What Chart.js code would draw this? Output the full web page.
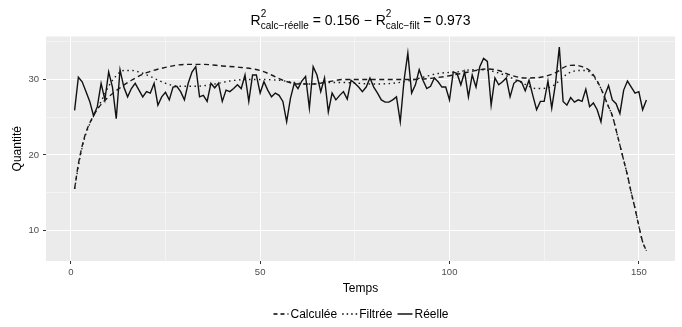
<!DOCTYPE html>
<html>
<head>
<meta charset="utf-8">
<script src="https://cdn.jsdelivr.net/npm/chart.js@4.4.0/dist/chart.umd.min.js"></script>
<style>
  html, body { margin: 0; padding: 0; background: #ffffff; }
  #c { display: block; }
</style>
</head>
<body>
<canvas id="c" width="682" height="327"></canvas>
<script>
// Réelle: one value per time step, t = 1..152
const reelle = [
  25.9, 30.3, 29.7, 28.4, 27.1, 25.2, 26.4, 29.5, 27.3, 31.0,
  29.0, 24.8, 31.3, 29.0, 27.7, 28.8, 29.5, 28.6, 27.7, 28.4,
  28.2, 29.5, 26.6, 27.7, 28.3, 27.3, 29.0, 29.1, 28.4, 27.3,
  29.5, 31.0, 31.7, 27.7, 27.9, 27.1, 29.5, 28.9, 29.5, 27.1,
  28.6, 28.4, 28.8, 29.3, 28.8, 30.6, 27.1, 30.6, 30.6, 28.2,
  29.7, 28.6, 27.7, 28.2, 27.9, 27.1, 24.4, 27.5, 29.5, 28.8,
  29.8, 30.4, 26.2, 31.7, 30.6, 28.4, 30.2, 25.7, 28.2, 27.3,
  27.9, 28.4, 27.4, 29.9, 29.5, 29.0, 28.4, 29.0, 30.2, 29.0,
  28.2, 27.3, 27.0, 27.0, 27.3, 27.7, 24.4, 29.9, 33.5, 28.2,
  29.3, 31.3, 29.9, 28.8, 29.1, 30.2, 29.7, 29.0, 29.0, 27.3,
  31.0, 30.8, 29.3, 31.0, 27.7, 30.6, 29.0, 31.7, 32.8, 32.4,
  26.6, 30.2, 29.3, 29.7, 30.2, 27.7, 29.5, 29.9, 29.7, 28.5,
  29.9, 27.9, 26.0, 27.1, 27.1, 29.8, 26.2, 29.5, 34.3, 27.1,
  26.6, 27.6, 27.0, 27.3, 27.1, 28.7, 26.4, 26.9, 26.0, 24.4,
  27.9, 29.2, 27.3, 26.8, 25.5, 28.6, 29.8, 29.0, 28.2, 28.4,
  26.0, 27.3
];

// Calculée: smooth curve read at these times
const calcTemps = [1, 2, 3, 4, 6, 8, 10, 13, 16, 20, 25, 30, 35, 40, 45, 50, 53, 56, 60, 64,
  68, 72, 80, 88, 94, 100, 105, 110, 113, 116, 120, 124, 128, 131, 133, 135, 137, 138, 139, 140,
  141, 142, 143, 144, 145, 146, 147, 148, 149, 150, 151, 152];
const calcValeurs = [15.5, 18.8, 21.2, 23.0, 25.2, 26.7, 27.7, 28.9, 29.9, 30.9, 31.6, 32.0, 32.0, 31.8, 31.6, 31.2, 30.6, 29.9, 29.4, 29.4,
  29.7, 30.0, 30.0, 30.0, 30.1, 30.5, 31.0, 31.4, 31.2, 30.6, 30.2, 30.3, 30.9, 31.8, 31.9, 31.7, 31.2, 30.6, 29.8, 28.8,
  27.6, 26.4, 25.2, 23.3, 21.3, 19.3, 17.3, 15.0, 12.9, 10.6, 8.5, 7.3];

// Filtrée: smooth curve read at these times
const filtTemps = [1, 2, 3, 4, 6, 8, 10, 12, 14, 16, 18, 21, 25, 29, 33, 38, 42, 46, 50, 55,
  59, 63, 68, 72, 76, 80, 85, 89, 93, 97, 102, 106, 109, 112, 115, 119, 123, 126, 128, 131,
  134, 136, 137, 138, 139, 140, 141, 142, 143, 144, 145, 146, 147, 148, 149, 150, 151, 152];
const filtValeurs = [15.5, 18.5, 21.0, 22.8, 25.2, 27.1, 29.1, 30.5, 31.2, 31.2, 31.0, 30.4, 29.5, 29.1, 29.1, 29.4, 29.8, 30.0, 30.0, 29.9,
  29.6, 29.4, 29.6, 29.6, 29.5, 29.4, 29.5, 29.8, 30.3, 30.8, 31.0, 31.3, 31.3, 31.0, 30.5, 29.6, 28.8, 28.9, 29.4, 30.7,
  31.2, 31.2, 31.0, 30.4, 29.7, 28.8, 27.6, 26.4, 25.2, 23.3, 21.3, 19.3, 17.3, 15.0, 12.9, 10.6, 8.5, 7.3];

const xMajor = [0, 50, 100, 150];
const xGrid = [0, 25, 50, 75, 100, 125, 150];
const yMajor = [10, 20, 30];
const yGrid = [10, 15, 20, 25, 30, 35];

const legendItems = [
  { label: 'Calculée', dash: [4, 3] },
  { label: 'Filtrée', dash: [1.5, 3] },
  { label: 'Réelle', dash: [] }
];

const FONT = '"Liberation Sans", Arial, sans-serif';

const reelleData = reelle.map((v, i) => ({ x: i + 1, y: v }));
const calcData = calcTemps.map((t, i) => ({ x: t, y: calcValeurs[i] }));
const filtData = filtTemps.map((t, i) => ({ x: t, y: filtValeurs[i] }));

// grey panel like ggplot
const panelBg = {
  id: 'panelBg',
  beforeDraw(chart) {
    const a = chart.chartArea;
    const ctx = chart.ctx;
    ctx.save();
    ctx.fillStyle = '#EBEBEB';
    ctx.fillRect(a.left, a.top, a.right - a.left, a.bottom - a.top);
    ctx.restore();
  }
};

// title, axis titles and legend
const textBits = {
  id: 'textBits',
  afterDraw(chart) {
    const ctx = chart.ctx;
    const a = chart.chartArea;
    const cx = (a.left + a.right) / 2;
    ctx.save();
    ctx.fillStyle = '#000000';
    ctx.textBaseline = 'alphabetic';

    // title with sub/superscripts
    const parts = [
      { t: 'R', s: 14, dy: 0 },
      { t: '2', s: 10, dy: -8.5, sup: true },
      { t: 'calc\u2212réelle', s: 10, dy: 4 },
      { t: ' = 0.156 \u2212 ', s: 14, dy: 0 },
      { t: 'R', s: 14, dy: 0 },
      { t: '2', s: 10, dy: -8.5, sup: true },
      { t: 'calc\u2212filt', s: 10, dy: 4 },
      { t: ' = 0.973', s: 14, dy: 0 }
    ];
    let total = 0;
    const widths = [];
    for (let i = 0; i < parts.length; i++) {
      ctx.font = parts[i].s + 'px ' + FONT;
      const w = ctx.measureText(parts[i].t).width;
      widths.push(w);
      // superscript shares its x with the following subscript
      if (!parts[i].sup) total += w;
    }
    let x = cx - total / 2;
    const base = 25;
    for (let i = 0; i < parts.length; i++) {
      ctx.font = parts[i].s + 'px ' + FONT;
      ctx.textAlign = 'left';
      ctx.fillText(parts[i].t, x, base + parts[i].dy);
      if (!parts[i].sup) x += widths[i];
    }

    // axis titles
    ctx.font = '12px ' + FONT;
    ctx.textAlign = 'center';
    ctx.fillText('Temps', cx, 292);
    ctx.save();
    ctx.translate(21, (a.top + a.bottom) / 2);
    ctx.rotate(-Math.PI / 2);
    ctx.fillText('Quantité', 0, 0);
    ctx.restore();

    // legend
    ctx.font = '12px ' + FONT;
    const keyW = 17, gapAfterKey = 1, gapItem = 4;
    let legW = 0;
    legendItems.forEach((it, i) => {
      legW += keyW + gapAfterKey + ctx.measureText(it.label).width;
      if (i < legendItems.length - 1) legW += gapItem;
    });
    let lx = cx - legW / 2;
    const ly = 314;
    legendItems.forEach(it => {
      ctx.strokeStyle = '#000000';
      ctx.lineWidth = 1.4;
      ctx.setLineDash(it.dash);
      ctx.beginPath();
      ctx.moveTo(lx + 1, ly);
      ctx.lineTo(lx + keyW - 1, ly);
      ctx.stroke();
      ctx.setLineDash([]);
      lx += keyW + gapAfterKey;
      ctx.textAlign = 'left';
      ctx.textBaseline = 'middle';
      ctx.fillText(it.label, lx, ly + 0.5);
      lx += ctx.measureText(it.label).width + gapItem;
    });
    ctx.restore();
  }
};

const gridColor = (majors) => (c) => (c.tick && majors.includes(c.tick.value)) ? '#FFFFFF' : '#F4F4F4';
const tickColor = (majors) => (c) => (c.tick && majors.includes(c.tick.value)) ? '#333333' : 'rgba(0,0,0,0)';

new Chart(document.getElementById('c'), {
  type: 'line',
  data: {
    datasets: [
      {
        label: 'Calculée',
        data: calcData,
        borderColor: '#1a1a1a',
        borderWidth: 1.4,
        borderDash: [5, 3.5],
        pointRadius: 0,
        cubicInterpolationMode: 'monotone',
        fill: false
      },
      {
        label: 'Filtrée',
        data: filtData,
        borderColor: '#1a1a1a',
        borderWidth: 1.4,
        borderDash: [1.5, 3.5],
        pointRadius: 0,
        cubicInterpolationMode: 'monotone',
        fill: false
      },
      {
        label: 'Réelle',
        data: reelleData,
        borderColor: '#111111',
        borderWidth: 1.4,
        pointRadius: 0,
        tension: 0,
        fill: false
      }
    ]
  },
  options: {
    responsive: false,
    devicePixelRatio: 1,
    animation: false,
    layout: { padding: { top: 36.5, right: 7, bottom: 30, left: 0 } },
    plugins: {
      legend: { display: false },
      title: { display: false },
      tooltip: { enabled: false }
    },
    scales: {
      x: {
        type: 'linear',
        min: -6.55,
        max: 159.55,
        afterBuildTicks: (s) => { s.ticks = xGrid.map(v => ({ value: v })); },
        afterFit: (s) => { s.height = 36; },
        border: { display: false },
        grid: {
          color: gridColor(xMajor),
          tickColor: tickColor(xMajor),
          tickLength: 3,
          lineWidth: 1
        },
        ticks: {
          autoSkip: false,
          maxRotation: 0,
          padding: 3,
          color: '#4D4D4D',
          font: { family: FONT, size: 9.5 },
          callback: (v) => xMajor.includes(v) ? String(v) : ''
        }
      },
      y: {
        type: 'linear',
        min: 5.95,
        max: 35.7,
        afterBuildTicks: (s) => { s.ticks = yGrid.map(v => ({ value: v })); },
        afterFit: (s) => { s.width = 46; },
        border: { display: false },
        grid: {
          color: gridColor(yMajor),
          tickColor: tickColor(yMajor),
          tickLength: 3,
          lineWidth: 1
        },
        ticks: {
          autoSkip: false,
          padding: 4,
          color: '#4D4D4D',
          font: { family: FONT, size: 9.5 },
          callback: (v) => yMajor.includes(v) ? String(v) : ''
        }
      }
    }
  },
  plugins: [panelBg, textBits]
});
</script>
</body>
</html>
